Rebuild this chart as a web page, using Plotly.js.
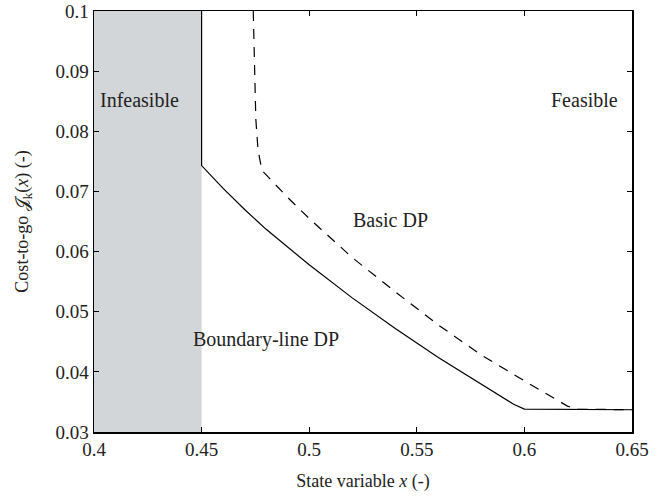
<!DOCTYPE html>
<html>
<head>
<meta charset="utf-8">
<script src="https://cdn.plot.ly/plotly-3.0.1.min.js"></script>
<style>html,body{margin:0;padding:0;background:#fff;}#chart{width:662px;height:496px;}</style>
</head>
<body>
<div id="chart"></div>
<script>
// Boundary-line DP (solid)
const boundaryX = [0.45, 0.45, 0.46, 0.47, 0.48, 0.49, 0.50, 0.52, 0.54, 0.56, 0.58, 0.595, 0.60, 0.65];
const boundaryY = [0.1, 0.0743, 0.0705, 0.0670, 0.0637, 0.0607, 0.0578, 0.0523, 0.0472, 0.0424, 0.0379, 0.0346, 0.0338, 0.0337];
// Basic DP (dashed)
const basicX = [0.474, 0.4745, 0.4752, 0.4762, 0.478, 0.49, 0.50, 0.52, 0.54, 0.56, 0.58, 0.60, 0.615, 0.62, 0.625, 0.65];
const basicY = [0.1, 0.090, 0.082, 0.077, 0.0735, 0.0690, 0.0655, 0.0590, 0.0533, 0.0478, 0.0428, 0.0385, 0.0353, 0.0343, 0.0338, 0.0337];
// Infeasible region bounds
const infeasibleX = [0.4, 0.45];
const xTicks = [0.4, 0.45, 0.5, 0.55, 0.6, 0.65];
const xTickText = ['0.4', '0.45', '0.5', '0.55', '0.6', '0.65'];
const yTicks = [0.03, 0.04, 0.05, 0.06, 0.07, 0.08, 0.09, 0.1];
const yTickText = ['0.03', '0.04', '0.05', '0.06', '0.07', '0.08', '0.09', '0.1'];
const labels = ['Infeasible', 'Feasible', 'Basic DP', 'Boundary-line DP'];
const labelX = [0.402, 0.628, 0.538, 0.480];
const labelY = [0.0852, 0.0852, 0.0653, 0.0453];
const labelAnchor = ['left', 'center', 'center', 'center'];

const font = 'Liberation Serif';

const traces = [
  {x: boundaryX, y: boundaryY, mode: 'lines', line: {color: '#000', width: 1.2}, hoverinfo: 'skip'},
  {x: basicX, y: basicY, mode: 'lines', line: {color: '#000', width: 1.2, dash: '10px,8px'}, hoverinfo: 'skip'}
];

const axisCommon = {
  showgrid: false, zeroline: false, showline: true, linecolor: '#000', linewidth: 1.5,
  mirror: 'ticks', ticks: 'inside', ticklen: 5, tickcolor: '#000', tickwidth: 1,
  tickfont: {family: font, size: 19, color: '#222'}
};

const layout = {
  width: 662, height: 496,
  margin: {l: 94, r: 30, t: 11, b: 64},
  paper_bgcolor: '#fff', plot_bgcolor: '#fff',
  showlegend: false,
  font: {family: font, color: '#222'},
  xaxis: Object.assign({}, axisCommon, {
    range: [0.4, 0.65], tickmode: 'array', tickvals: xTicks, ticktext: xTickText,
    title: {text: 'State variable <i>x</i> (-)', font: {family: font, size: 18, color: '#222'}, standoff: 15}
  }),
  yaxis: Object.assign({}, axisCommon, {
    range: [0.03, 0.1], tickmode: 'array', tickvals: yTicks, ticktext: yTickText,
    title: {text: 'Cost-to-go 𝒥<sub>k</sub>(<i>x</i>) (-)', font: {family: font, size: 18, color: '#222'}, standoff: 22}
  }),
  shapes: [{
    type: 'rect', xref: 'x', yref: 'paper', x0: infeasibleX[0], x1: infeasibleX[1], y0: 0, y1: 1,
    fillcolor: '#d3d6d9', line: {width: 0}, layer: 'below'
  }],
  annotations: labels.map((t, i) => ({
    text: t, x: labelX[i], y: labelY[i], xref: 'x', yref: 'y', showarrow: false,
    xanchor: labelAnchor[i], yanchor: 'middle',
    font: {family: font, size: 20, color: '#222'}
  }))
};

Plotly.newPlot('chart', traces, layout, {staticPlot: true, displayModeBar: false});
</script>
</body>
</html>
